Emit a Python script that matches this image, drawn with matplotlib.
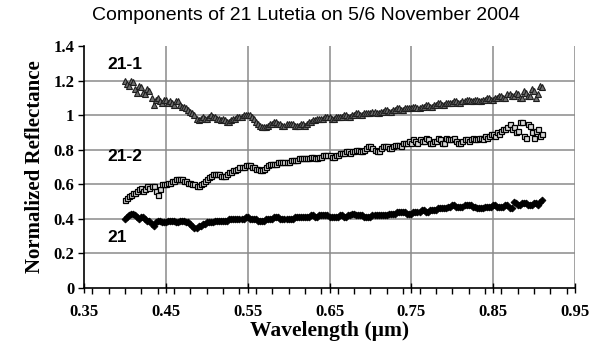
import numpy as np
import matplotlib
matplotlib.use("Agg")
import matplotlib.pyplot as plt
from matplotlib.ticker import MultipleLocator

# wavelength grid (um), 0.400 .. 0.910 in 0.0025 steps
wavelength = np.round(np.arange(0.400, 0.91001, 0.0025), 4)

refl_21_1 = [
    1.20, 1.18, 1.17, 1.20, 1.19, 1.15, 1.13, 1.17, 1.16, 1.13, 1.12, 1.15, 1.14, 1.10, 1.06, 1.09, 1.10, 1.08, 1.07, 1.09,
    1.09, 1.07, 1.08, 1.07, 1.06, 1.08, 1.08, 1.06, 1.05, 1.05, 1.04, 1.03, 1.02, 1.01, 1.00, 0.98, 0.97, 0.98, 0.99, 0.98,
    0.98, 0.99, 1.00, 0.99, 0.99, 0.98, 0.98, 0.97, 0.98, 0.97, 0.96, 0.96, 0.97, 0.98, 0.98, 0.99, 0.99, 0.99, 1.00, 1.00,
    1.00, 1.00, 0.99, 0.98, 0.96, 0.95, 0.94, 0.93, 0.93, 0.93, 0.94, 0.95, 0.95, 0.96, 0.96, 0.95, 0.95, 0.94, 0.94, 0.95,
    0.95, 0.95, 0.95, 0.94, 0.94, 0.94, 0.95, 0.95, 0.94, 0.95, 0.96, 0.96, 0.97, 0.97, 0.98, 0.98, 0.98, 0.98, 0.99, 0.99,
    0.99, 0.98, 0.98, 0.99, 0.99, 0.99, 0.99, 1.00, 1.00, 0.99, 0.99, 1.00, 1.00, 1.01, 1.01, 1.00, 1.00, 1.01, 1.01, 1.01,
    1.01, 1.02, 1.02, 1.01, 1.01, 1.02, 1.02, 1.03, 1.03, 1.02, 1.02, 1.03, 1.03, 1.04, 1.04, 1.03, 1.03, 1.04, 1.04, 1.04,
    1.04, 1.05, 1.05, 1.04, 1.04, 1.05, 1.05, 1.06, 1.06, 1.05, 1.05, 1.06, 1.06, 1.07, 1.07, 1.06, 1.06, 1.07, 1.07, 1.07,
    1.07, 1.08, 1.08, 1.07, 1.07, 1.08, 1.08, 1.09, 1.09, 1.08, 1.08, 1.09, 1.09, 1.08, 1.08, 1.09, 1.09, 1.10, 1.10, 1.09,
    1.09, 1.10, 1.10, 1.11, 1.11, 1.10, 1.10, 1.12, 1.12, 1.11, 1.11, 1.13, 1.12, 1.10, 1.10, 1.14, 1.13, 1.11, 1.11, 1.15,
    1.14, 1.10, 1.12, 1.17, 1.16,
]

refl_21_2 = [
    0.51, 0.52, 0.53, 0.54, 0.55, 0.55, 0.56, 0.57, 0.58, 0.56, 0.57, 0.59, 0.58, 0.59, 0.59, 0.56, 0.54, 0.57, 0.60, 0.60,
    0.60, 0.61, 0.61, 0.62, 0.62, 0.63, 0.63, 0.63, 0.63, 0.62, 0.62, 0.61, 0.61, 0.60, 0.60, 0.59, 0.59, 0.60, 0.61, 0.62,
    0.63, 0.64, 0.65, 0.66, 0.66, 0.66, 0.66, 0.65, 0.65, 0.65, 0.66, 0.67, 0.67, 0.68, 0.68, 0.69, 0.70, 0.70, 0.70, 0.71,
    0.71, 0.71, 0.70, 0.70, 0.69, 0.69, 0.68, 0.68, 0.69, 0.70, 0.71, 0.72, 0.72, 0.72, 0.72, 0.73, 0.73, 0.73, 0.73, 0.73,
    0.73, 0.74, 0.74, 0.74, 0.74, 0.75, 0.75, 0.75, 0.75, 0.75, 0.75, 0.76, 0.76, 0.75, 0.75, 0.76, 0.76, 0.77, 0.77, 0.77,
    0.77, 0.76, 0.76, 0.77, 0.77, 0.78, 0.78, 0.78, 0.79, 0.79, 0.78, 0.79, 0.79, 0.80, 0.80, 0.79, 0.79, 0.80, 0.81, 0.82,
    0.82, 0.81, 0.80, 0.79, 0.79, 0.81, 0.82, 0.82, 0.82, 0.81, 0.81, 0.82, 0.83, 0.83, 0.83, 0.82, 0.84, 0.84, 0.84, 0.85,
    0.84, 0.86, 0.85, 0.84, 0.86, 0.85, 0.85, 0.87, 0.86, 0.84, 0.84, 0.85, 0.85, 0.87, 0.86, 0.84, 0.84, 0.87, 0.86, 0.86,
    0.86, 0.87, 0.85, 0.84, 0.84, 0.85, 0.86, 0.86, 0.85, 0.86, 0.87, 0.86, 0.86, 0.87, 0.87, 0.86, 0.88, 0.87, 0.88, 0.89,
    0.89, 0.88, 0.90, 0.89, 0.91, 0.92, 0.92, 0.93, 0.95, 0.92, 0.93, 0.90, 0.91, 0.96, 0.96, 0.88, 0.87, 0.95, 0.94, 0.90,
    0.87, 0.91, 0.92, 0.88, 0.89,
]

refl_21 = [
    0.40, 0.41, 0.42, 0.43, 0.43, 0.42, 0.41, 0.40, 0.41, 0.41, 0.40, 0.39, 0.39, 0.37, 0.36, 0.38, 0.39, 0.39, 0.38, 0.38,
    0.38, 0.39, 0.39, 0.39, 0.39, 0.38, 0.38, 0.39, 0.39, 0.39, 0.38, 0.38, 0.37, 0.36, 0.35, 0.35, 0.36, 0.36, 0.37, 0.37,
    0.38, 0.38, 0.38, 0.38, 0.39, 0.39, 0.39, 0.39, 0.39, 0.39, 0.39, 0.40, 0.40, 0.40, 0.40, 0.40, 0.40, 0.40, 0.40, 0.41,
    0.41, 0.40, 0.40, 0.40, 0.40, 0.39, 0.39, 0.39, 0.39, 0.40, 0.40, 0.40, 0.40, 0.41, 0.41, 0.41, 0.40, 0.40, 0.40, 0.40,
    0.40, 0.40, 0.40, 0.41, 0.41, 0.41, 0.41, 0.41, 0.41, 0.41, 0.41, 0.42, 0.42, 0.41, 0.41, 0.42, 0.42, 0.42, 0.42, 0.42,
    0.41, 0.41, 0.41, 0.41, 0.41, 0.42, 0.42, 0.41, 0.41, 0.42, 0.42, 0.43, 0.43, 0.42, 0.42, 0.42, 0.42, 0.41, 0.41, 0.41,
    0.41, 0.42, 0.42, 0.42, 0.42, 0.42, 0.42, 0.42, 0.42, 0.43, 0.43, 0.43, 0.43, 0.44, 0.44, 0.44, 0.44, 0.44, 0.43, 0.43,
    0.43, 0.44, 0.44, 0.44, 0.44, 0.45, 0.45, 0.44, 0.44, 0.45, 0.45, 0.45, 0.45, 0.46, 0.46, 0.46, 0.46, 0.46, 0.47, 0.47,
    0.48, 0.48, 0.47, 0.47, 0.47, 0.47, 0.48, 0.48, 0.48, 0.48, 0.47, 0.47, 0.46, 0.46, 0.46, 0.46, 0.47, 0.47, 0.47, 0.47,
    0.48, 0.48, 0.47, 0.47, 0.47, 0.47, 0.48, 0.48, 0.46, 0.46, 0.50, 0.49, 0.48, 0.48, 0.49, 0.49, 0.49, 0.48, 0.48, 0.48,
    0.49, 0.49, 0.48, 0.50, 0.51,
]

x_ticks = [0.35, 0.45, 0.55, 0.65, 0.75, 0.85, 0.95]
y_ticks = [0, 0.2, 0.4, 0.6, 0.8, 1, 1.2, 1.4]
y_tick_labels = ["0", "0.2", "0.4", "0.6", "0.8", "1", "1.2", "1.4"]

fig = plt.figure(figsize=(5.99, 3.47), dpi=100)
ax = fig.add_axes([84 / 599, 1 - 288 / 347, (575 - 84) / 599, (288 - 46) / 347])

ax.plot(wavelength, refl_21_1, linestyle="none", marker="^", ms=4,
        mfc="#6e6e6e", mec="#1e1e1e", mew=0.8, zorder=3)
ax.plot(wavelength, refl_21_2, linestyle="none", marker="s", ms=3.6,
        mfc="#d8d8d8", mec="black", mew=0.9, zorder=3)
ax.plot(wavelength, refl_21, linestyle="none", marker="D", ms=3.5,
        mfc="black", mec="black", mew=0.6, zorder=3)

ax.set_xlim(0.35, 0.95)
ax.set_ylim(0, 1.4)
ax.set_xticks(x_ticks)
ax.set_xticklabels([f"{v:.2f}" for v in x_ticks])
ax.set_yticks(y_ticks)
ax.set_yticklabels(y_tick_labels)
ax.xaxis.set_minor_locator(MultipleLocator(0.02))

serif = ["Liberation Serif", "DejaVu Serif"]
for lab in ax.get_xticklabels() + ax.get_yticklabels():
    lab.set_fontfamily(serif)
    lab.set_fontweight("bold")
    lab.set_fontsize(12)

ax.tick_params(axis="x", which="major", direction="inout", length=7, width=1, pad=8)
ax.tick_params(axis="x", which="minor", direction="out", length=4, width=1)
ax.tick_params(axis="y", which="major", direction="out", length=4, width=1, pad=3)

for s in ["top", "right"]:
    ax.spines[s].set_visible(False)
for s in ["left", "bottom"]:
    ax.spines[s].set_linewidth(1.2)
    ax.spines[s].set_color("black")

for xv in x_ticks[1:]:
    ax.axvline(xv, color="#8a8a8a", lw=1.1, zorder=1)
for yv in y_ticks[1:-1]:
    ax.axhline(yv, color="#8a8a8a", lw=1.1, zorder=1)

ax.set_xlabel("Wavelength (µm)", fontfamily=serif, fontweight="bold", fontsize=15.5, labelpad=1)
ax.set_ylabel("Normalized Reflectance", fontfamily=serif, fontweight="bold", fontsize=15, labelpad=6)

fig.text(306 / 599, 1 - 15 / 347, "Components of 21 Lutetia on 5/6 November 2004",
         ha="center", va="center", fontfamily=["Liberation Sans", "DejaVu Sans"], fontsize=14)

lab_font = dict(fontfamily=["Liberation Sans", "DejaVu Sans"], fontweight="bold", fontsize=12.5,
                ha="center", va="center")
ax.text(0.400, 1.295, "21-1", **lab_font)
ax.text(0.400, 0.76, "21-2", **lab_font)
ax.text(0.390, 0.29, "21", **lab_font)

fig.savefig("out.png", dpi=100)
